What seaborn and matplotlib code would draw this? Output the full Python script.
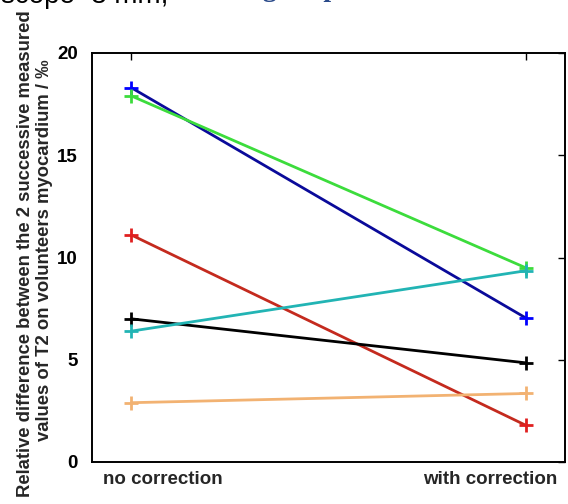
import matplotlib
matplotlib.use("Agg")
import matplotlib.pyplot as plt
import seaborn as sns
import pandas as pd

conditions = ["no correction", "with correction"]
subjects = ["S1", "S2", "S3", "S4", "S5", "S6"]
before = [18.3, 17.9, 11.1, 7.0, 6.4, 2.9]
after = [7.05, 9.5, 1.8, 4.85, 9.35, 3.35]
colors = ["#0a0a9a", "#3cdc3c", "#c42a1e", "#000000", "#22b4b4", "#f2b272"]
marker_colors = ["#0000ff", "#3cdc3c", "#e02020", "#000000", "#22b4b4", "#f2b272"]
y_ticks = [0, 5, 10, 15, 20]
ylabel_lines = ["Relative difference between the 2 successive measured",
                "values of T2 on volunteers myocardium / ‰"]

rows = []
for s, b, a in zip(subjects, before, after):
    rows.append({"subject": s, "cond": 1, "value": b})
    rows.append({"subject": s, "cond": 2, "value": a})
df = pd.DataFrame(rows)

sns.set_style("white")
plt.rcParams["font.family"] = ["Liberation Sans", "DejaVu Sans"]

fig = plt.figure(figsize=(5.68, 5.04), dpi=100)
ax = fig.add_axes([92 / 568, 1 - 462 / 504, (565 - 92) / 568, (462 - 53) / 504])

sns.lineplot(data=df, x="cond", y="value", hue="subject", palette=colors,
             marker="+", markersize=10, markeredgewidth=2, linewidth=2,
             legend=False, ax=ax)
for ln, mc in zip(ax.lines, marker_colors):
    ln.set_markeredgecolor(mc)
    ln.set_markerfacecolor(mc)

ax.set_xlim(0.9, 2.1)
ax.set_ylim(0, 20)
ax.set_xticks([1, 2])
ax.set_xticklabels([])
offsets = [(-28, "left"), (32, "right")]
for pos, lab, (dx, ha) in zip([1, 2], conditions, offsets):
    ax.annotate(lab, xy=(pos, 0), xycoords=("data", "axes fraction"),
                xytext=(dx, -9), textcoords="offset pixels",
                ha=ha, va="top", fontsize=13.5, fontweight="bold",
                annotation_clip=False)

ax.set_yticks(y_ticks)
ax.set_yticklabels([str(t) for t in y_ticks], fontsize=13.5, fontweight="bold")
ax.tick_params(direction="in", length=5, width=1, top=True, right=True,
               colors="black")
ax.tick_params(axis="y", pad=10)
for sp in ax.spines.values():
    sp.set_visible(True)
    sp.set_color("black")
    sp.set_linewidth(1.4)
ax.set_xlabel("")
ax.set_ylabel("")

fig.text(26 / 568, 1 - 254 / 504, ylabel_lines[0],
         rotation=90, ha="center", va="center", fontsize=13.3, fontweight="bold")
fig.text(45 / 568, 1 - 250 / 504, ylabel_lines[1],
         rotation=90, ha="center", va="center", fontsize=13.3, fontweight="bold")

fig.text(1 / 568, 1 - 3 / 504, "scope=3 mm,", fontsize=20, color="black",
         va="baseline", ha="left")
fig.text(238 / 568, 1 + 3.5 / 504, "Figure p", fontsize=20, color="#2a4a8a",
         va="baseline", ha="left", family="Liberation Serif", fontweight="bold")

fig.savefig("out.png", dpi=100)
